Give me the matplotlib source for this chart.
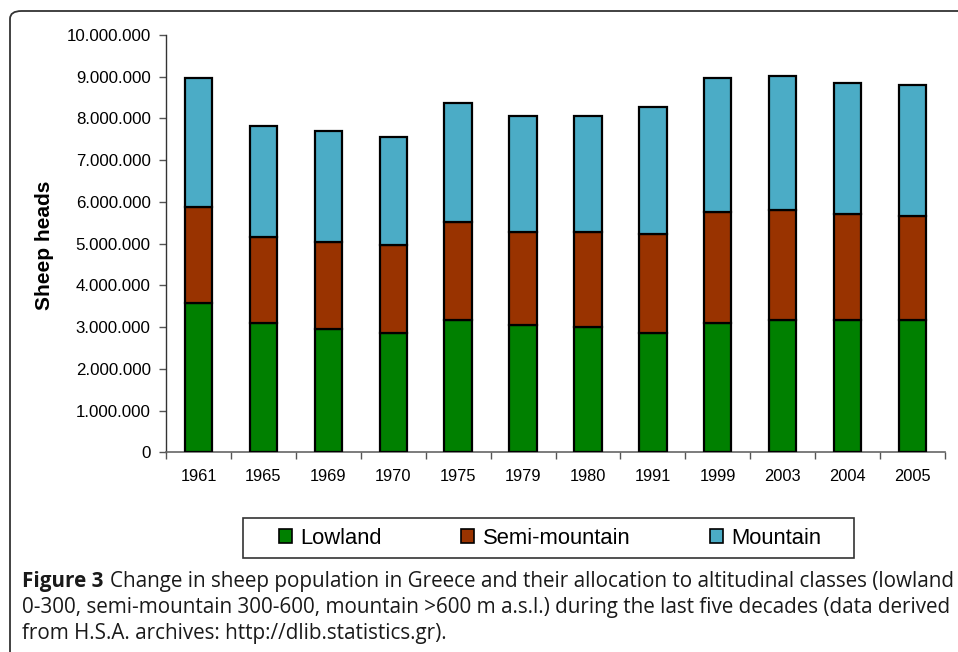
import matplotlib
matplotlib.use("Agg")
import matplotlib.pyplot as plt
from matplotlib.patches import Patch, Rectangle, FancyBboxPatch
from matplotlib.ticker import FuncFormatter, FixedLocator
import numpy as np

years = ['1961', '1965', '1969', '1970', '1975', '1979', '1980', '1991', '1999', '2003', '2004', '2005']
lowland = [3570000, 3090000, 2960000, 2870000, 3180000, 3050000, 3010000, 2870000, 3110000, 3170000, 3170000, 3160000]
semi_mountain = [2320000, 2080000, 2090000, 2100000, 2340000, 2240000, 2260000, 2360000, 2660000, 2630000, 2540000, 2510000]
mountain = [3080000, 2660000, 2640000, 2580000, 2860000, 2760000, 2780000, 3050000, 3200000, 3210000, 3130000, 3140000]
series_names = ['Lowland', 'Semi-mountain', 'Mountain']
colors = ['#008000', '#993300', '#4BACC6']

W, H = 958, 652
fig = plt.figure(figsize=(W / 100, H / 100), dpi=100)
fig.patch.set_facecolor('white')

def fx(px):
    return px / W

def fy(py):
    return 1 - py / H

# outer rounded frame
frame = FancyBboxPatch((fx(10), fy(700)), fx(1000) - fx(10), fy(11) - fy(700),
                       boxstyle="round,pad=0,rounding_size=0.012",
                       transform=fig.transFigure, fill=False, edgecolor='#333333',
                       linewidth=1.3, zorder=0)
fig.patches.append(frame)

ax = fig.add_axes([fx(166), fy(452.3), fx(945) - fx(166), fy(35) - fy(452.3)])
x = np.arange(len(years))
bw = 0.42
low = np.array(lowland)
semi = np.array(semi_mountain)
mnt = np.array(mountain)
ax.bar(x, low, bw, color=colors[0], edgecolor='black', linewidth=1.6, zorder=3)
ax.bar(x, semi, bw, bottom=low, color=colors[1], edgecolor='black', linewidth=1.6, zorder=3)
ax.bar(x, mnt, bw, bottom=low + semi, color=colors[2], edgecolor='black', linewidth=1.6, zorder=3)

ax.set_xlim(-0.5, len(years) - 0.5)
ax.set_ylim(0, 10000000)
ax.set_yticks(np.arange(0, 10000001, 1000000))
ax.yaxis.set_major_formatter(FuncFormatter(lambda v, p: f"{int(v):,}".replace(',', '.')))
ax.set_xticks(x)
ax.set_xticklabels(years)
ax.xaxis.set_minor_locator(FixedLocator(np.arange(-0.5, len(years), 1.0)))
ax.tick_params(axis='x', which='major', length=0, pad=12, labelsize=11.8)
ax.tick_params(axis='x', which='minor', length=5, width=1, color='#555555', direction='out')
ax.tick_params(axis='y', length=5, width=1, color='#555555', direction='out', pad=6, labelsize=12.2)
for lbl in ax.get_xticklabels() + ax.get_yticklabels():
    lbl.set_fontfamily('Liberation Sans')
ax.spines['top'].set_visible(False)
ax.spines['right'].set_visible(False)
ax.spines['left'].set_color('#333333')
ax.spines['bottom'].set_color('#666666')
ax.spines['left'].set_linewidth(1.0)
ax.spines['bottom'].set_linewidth(1.2)

fig.text(fx(44), fy(245), 'Sheep heads', rotation=90, ha='center', va='center',
         fontsize=15, fontweight='bold', family='Liberation Sans')

# legend
fig.patches.append(Rectangle((fx(243), fy(558)), fx(854) - fx(243), fy(518) - fy(558),
                             transform=fig.transFigure, fill=False, edgecolor='#333333',
                             linewidth=1.2))
handles = [Patch(facecolor=c, edgecolor='black', linewidth=1.2) for c in colors]
leg = fig.legend(handles, series_names, loc='center', bbox_to_anchor=(fx(550), fy(538)),
                 ncol=3, frameon=False, prop={'family': 'Liberation Sans', 'size': 15.8},
                 handlelength=0.6, handleheight=0.6, handletextpad=0.4, columnspacing=3.6,
                 borderpad=0, borderaxespad=0)

# caption
cap_font = 'Open Sans'
line1a = 'Figure 3'
line1b = 'Change in sheep population in Greece and their allocation to altitudinal classes (lowland'
line2 = '0-300, semi-mountain 300-600, mountain >600 m a.s.l.) during the last five decades (data derived'
line3 = 'from H.S.A. archives: http://dlib.statistics.gr).'
x0, x1 = 22, 952
cs = 12.2
wt = 'medium'
r = fig.canvas.get_renderer()
t1 = fig.text(fx(x0), fy(587), line1a, fontsize=cs, fontweight='bold', family=cap_font,
              ha='left', va='baseline', color='#1a1a1a')
t2 = fig.text(0, fy(587), line1b, fontsize=cs, family=cap_font, fontweight=wt, ha='left',
              va='baseline', color='#1a1a1a')
for _ in range(3):
    t1.set_fontsize(cs)
    t2.set_fontsize(cs)
    b1 = t1.get_window_extent(r)
    sp = 0.3 * cs * 100 / 72
    t2.set_x((b1.x1 + sp) / W)
    b2 = t2.get_window_extent(r)
    cs = cs * (x1 - x0) / (b2.x1 - b1.x0)
t1.set_fontsize(cs)
t2.set_fontsize(cs)
b1 = t1.get_window_extent(r)
t2.set_x((b1.x1 + 0.3 * cs * 100 / 72) / W)
fig.text(fx(x0), fy(613), line2, fontsize=cs, family=cap_font, fontweight=wt, ha='left',
         va='baseline', color='#1a1a1a')
fig.text(fx(x0), fy(639), line3, fontsize=cs, family=cap_font, fontweight=wt, ha='left',
         va='baseline', color='#1a1a1a')

fig.savefig('out.png', dpi=100)
